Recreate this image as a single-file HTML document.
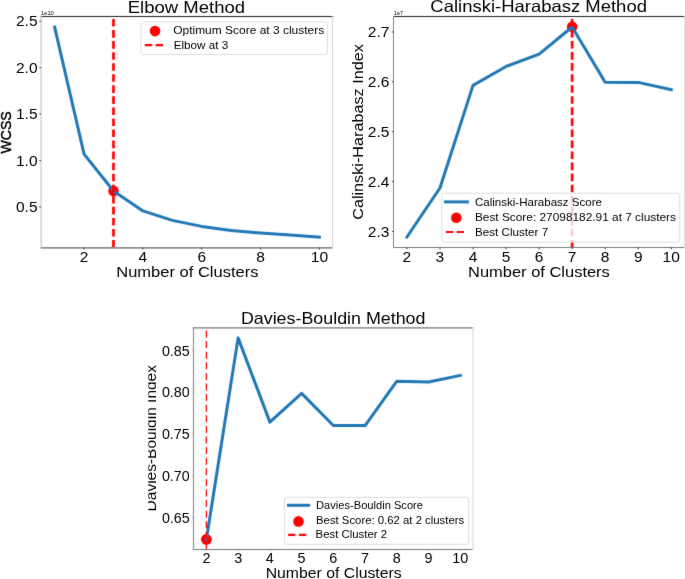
<!DOCTYPE html>
<html><head><meta charset="utf-8"><style>
html,body{margin:0;padding:0;background:#fff;overflow:hidden;}
svg{display:block;will-change:transform;}
</style></head><body>
<svg width="685" height="579" viewBox="0 0 685 579" font-family='"Liberation Sans", sans-serif'>
<rect width="685" height="579" fill="#fff"/>
<defs><filter id="bl" x="0" y="0" width="685" height="579" filterUnits="userSpaceOnUse" color-interpolation-filters="sRGB"><feConvolveMatrix order="3" kernelMatrix="0.01134 0.08382 0.01134 0.08382 0.61935 0.08382 0.01134 0.08382 0.01134" edgeMode="duplicate" preserveAlpha="false"/></filter><filter id="tbl" x="0" y="0" width="685" height="579" filterUnits="userSpaceOnUse" color-interpolation-filters="sRGB"><feConvolveMatrix order="3" kernelMatrix="0.00276 0.04704 0.00276 0.04704 0.80077 0.04704 0.00276 0.04704 0.00276" edgeMode="none" preserveAlpha="false"/></filter></defs>
<g filter="url(#bl)">
<rect width="685" height="579" fill="#fff"/>
<circle cx="113.48939393939395" cy="190.9" r="5.3" fill="#ff0000"/>
<polyline points="54.64,27.00 84.07,154.10 113.49,191.00 142.91,210.90 172.34,220.40 201.76,226.40 231.19,230.60 260.61,233.10 290.03,235.00 319.46,237.20" fill="none" stroke="#1f77b4" stroke-width="3.0" stroke-linejoin="round" stroke-linecap="square"/>
<line x1="113.48939393939395" y1="247.6" x2="113.48939393939395" y2="16.5" stroke="#ff0000" stroke-width="2.7" stroke-dasharray="7.6 3.45" stroke-dashoffset="0"/>
<rect x="40.5" y="16" width="293.0" height="1" fill="#222"/>
<rect x="40.5" y="247" width="292.5" height="1.7" fill="#8a8a8a"/>
<rect x="40.5" y="16" width="1.2" height="232.7" fill="#c4c4c4"/>
<rect x="332" y="16" width="1" height="232.7" fill="#d8d8d8"/>
<line x1="84.06515151515151" y1="247.6" x2="84.06515151515151" y2="249.4" stroke="#333" stroke-width="1.0"/>
<line x1="142.91363636363639" y1="247.6" x2="142.91363636363639" y2="249.4" stroke="#333" stroke-width="1.0"/>
<line x1="201.76212121212123" y1="247.6" x2="201.76212121212123" y2="249.4" stroke="#333" stroke-width="1.0"/>
<line x1="260.610606060606" y1="247.6" x2="260.610606060606" y2="249.4" stroke="#333" stroke-width="1.0"/>
<line x1="319.4590909090909" y1="247.6" x2="319.4590909090909" y2="249.4" stroke="#333" stroke-width="1.0"/>
<line x1="39.4" y1="21.2" x2="41.0" y2="21.2" stroke="#333" stroke-width="1.0"/>
<line x1="39.4" y1="67.6" x2="41.0" y2="67.6" stroke="#333" stroke-width="1.0"/>
<line x1="39.4" y1="114.0" x2="41.0" y2="114.0" stroke="#333" stroke-width="1.0"/>
<line x1="39.4" y1="160.6" x2="41.0" y2="160.6" stroke="#333" stroke-width="1.0"/>
<line x1="39.4" y1="207.0" x2="41.0" y2="207.0" stroke="#333" stroke-width="1.0"/>
<rect x="140.9" y="21.9" width="186.6" height="32.6" rx="2.5" ry="2.5" fill="#fff" fill-opacity="0.8" stroke="#dddddd" stroke-width="1"/>
<circle cx="155.0" cy="31.1" r="5.3" fill="#ff0000"/>
<line x1="144.8" y1="45.2" x2="163.5" y2="45.2" stroke="#ff0000" stroke-width="2.2" stroke-dasharray="7.4 3.4"/>
<circle cx="572.1454545454545" cy="26.8" r="5.3" fill="#ff0000"/>
<polyline points="406.92,236.99 439.96,187.99 473.01,85.39 506.05,66.43 539.10,54.11 572.15,27.00 605.19,82.30 638.24,82.40 671.28,89.68" fill="none" stroke="#1f77b4" stroke-width="3.0" stroke-linejoin="round" stroke-linecap="square"/>
<line x1="572.1454545454545" y1="247.5" x2="572.1454545454545" y2="16.5" stroke="#ff0000" stroke-width="2.7" stroke-dasharray="7.6 3.45" stroke-dashoffset="0"/>
<rect x="393" y="16" width="292" height="1" fill="#222"/>
<rect x="393" y="247" width="292" height="1" fill="#777"/>
<rect x="393" y="16" width="1" height="232" fill="#888"/>
<rect x="684" y="16" width="1" height="232" fill="#dcdcdc"/>
<line x1="406.9181818181818" y1="247.5" x2="406.9181818181818" y2="249.3" stroke="#333" stroke-width="1.0"/>
<line x1="439.96363636363634" y1="247.5" x2="439.96363636363634" y2="249.3" stroke="#333" stroke-width="1.0"/>
<line x1="473.0090909090909" y1="247.5" x2="473.0090909090909" y2="249.3" stroke="#333" stroke-width="1.0"/>
<line x1="506.0545454545454" y1="247.5" x2="506.0545454545454" y2="249.3" stroke="#333" stroke-width="1.0"/>
<line x1="539.0999999999999" y1="247.5" x2="539.0999999999999" y2="249.3" stroke="#333" stroke-width="1.0"/>
<line x1="572.1454545454545" y1="247.5" x2="572.1454545454545" y2="249.3" stroke="#333" stroke-width="1.0"/>
<line x1="605.190909090909" y1="247.5" x2="605.190909090909" y2="249.3" stroke="#333" stroke-width="1.0"/>
<line x1="638.2363636363635" y1="247.5" x2="638.2363636363635" y2="249.3" stroke="#333" stroke-width="1.0"/>
<line x1="671.2818181818182" y1="247.5" x2="671.2818181818182" y2="249.3" stroke="#333" stroke-width="1.0"/>
<line x1="391.9" y1="231.50018000000014" x2="393.5" y2="231.50018000000014" stroke="#333" stroke-width="1.0"/>
<line x1="391.9" y1="181.6001800000001" x2="393.5" y2="181.6001800000001" stroke="#333" stroke-width="1.0"/>
<line x1="391.9" y1="131.70018000000005" x2="393.5" y2="131.70018000000005" stroke="#333" stroke-width="1.0"/>
<line x1="391.9" y1="81.80018000000001" x2="393.5" y2="81.80018000000001" stroke="#333" stroke-width="1.0"/>
<line x1="391.9" y1="31.90017999999997" x2="393.5" y2="31.90017999999997" stroke="#333" stroke-width="1.0"/>
<rect x="441.8" y="193.2" width="237.99999999999994" height="49.0" rx="2.5" ry="2.5" fill="#fff" fill-opacity="0.8" stroke="#dddddd" stroke-width="1"/>
<line x1="445.4" y1="201.9" x2="467.4" y2="201.9" stroke="#1f77b4" stroke-width="3" stroke-linecap="square"/>
<circle cx="456.3" cy="217.8" r="5.3" fill="#ff0000"/>
<line x1="445.8" y1="232.0" x2="464.5" y2="232.0" stroke="#ff0000" stroke-width="2.2" stroke-dasharray="7.4 3.4"/>
<circle cx="206.39545454545453" cy="539.3605" r="5.4" fill="#ff0000"/>
<polyline points="206.40,539.36 238.13,337.87 269.87,422.13 301.61,393.40 333.35,425.55 365.09,425.55 396.83,381.21 428.57,381.96 460.30,375.45" fill="none" stroke="#1f77b4" stroke-width="3.0" stroke-linejoin="round" stroke-linecap="square"/>
<line x1="206.39545454545453" y1="327.8" x2="206.39545454545453" y2="549.5" stroke="#ff0000" stroke-width="1.3" stroke-dasharray="7.0 3.6" stroke-dashoffset="7.9"/>
<rect x="192.9" y="327.1" width="280.9" height="1.5" fill="#8c8c8c"/>
<rect x="192.9" y="549" width="280.9" height="1" fill="#777"/>
<rect x="192.9" y="327.1" width="1.2" height="222.9" fill="#909090"/>
<rect x="472.3" y="327.1" width="1.5" height="222.9" fill="#e2e2e2"/>
<line x1="206.39545454545453" y1="549.5" x2="206.39545454545453" y2="550.7" stroke="#999" stroke-width="1.0"/>
<line x1="238.1340909090909" y1="549.5" x2="238.1340909090909" y2="550.7" stroke="#999" stroke-width="1.0"/>
<line x1="269.8727272727273" y1="549.5" x2="269.8727272727273" y2="550.7" stroke="#999" stroke-width="1.0"/>
<line x1="301.61136363636365" y1="549.5" x2="301.61136363636365" y2="550.7" stroke="#999" stroke-width="1.0"/>
<line x1="333.35" y1="549.5" x2="333.35" y2="550.7" stroke="#999" stroke-width="1.0"/>
<line x1="365.0886363636364" y1="549.5" x2="365.0886363636364" y2="550.7" stroke="#999" stroke-width="1.0"/>
<line x1="396.8272727272727" y1="549.5" x2="396.8272727272727" y2="550.7" stroke="#999" stroke-width="1.0"/>
<line x1="428.5659090909091" y1="549.5" x2="428.5659090909091" y2="550.7" stroke="#999" stroke-width="1.0"/>
<line x1="460.30454545454546" y1="549.5" x2="460.30454545454546" y2="550.7" stroke="#999" stroke-width="1.0"/>
<line x1="192.3" y1="517.4" x2="193.5" y2="517.4" stroke="#999" stroke-width="1.0"/>
<line x1="192.3" y1="475.65" x2="193.5" y2="475.65" stroke="#999" stroke-width="1.0"/>
<line x1="192.3" y1="433.9" x2="193.5" y2="433.9" stroke="#999" stroke-width="1.0"/>
<line x1="192.3" y1="392.1499999999999" x2="193.5" y2="392.1499999999999" stroke="#999" stroke-width="1.0"/>
<line x1="192.3" y1="350.4" x2="193.5" y2="350.4" stroke="#999" stroke-width="1.0"/>
<rect x="284.5" y="497.3" width="184.3" height="46.99999999999994" rx="2.5" ry="2.5" fill="#fff" fill-opacity="0.8" stroke="#dddddd" stroke-width="1"/>
<line x1="288.5" y1="505.3" x2="308.6" y2="505.3" stroke="#1f77b4" stroke-width="3" stroke-linecap="square"/>
<circle cx="298.5" cy="521.4" r="5.3" fill="#ff0000"/>
<line x1="288.1" y1="534.8" x2="306.7" y2="534.8" stroke="#ff0000" stroke-width="2.2" stroke-dasharray="7.3 3.6"/>
</g>
<g filter="url(#tbl)">
<text x="84.07" y="261.5" font-size="14.5" text-anchor="middle" textLength="8.65" lengthAdjust="spacingAndGlyphs" fill="#000">2</text>
<text x="142.91" y="261.5" font-size="14.5" text-anchor="middle" textLength="8.65" lengthAdjust="spacingAndGlyphs" fill="#000">4</text>
<text x="201.76" y="261.5" font-size="14.5" text-anchor="middle" textLength="8.65" lengthAdjust="spacingAndGlyphs" fill="#000">6</text>
<text x="260.61" y="261.5" font-size="14.5" text-anchor="middle" textLength="8.65" lengthAdjust="spacingAndGlyphs" fill="#000">8</text>
<text x="319.46" y="261.5" font-size="14.5" text-anchor="middle" textLength="17.3" lengthAdjust="spacingAndGlyphs" fill="#000">10</text>
<text x="37.6" y="26.2" font-size="14" text-anchor="end" textLength="21.62" lengthAdjust="spacingAndGlyphs" fill="#000">2.5</text>
<text x="37.6" y="72.6" font-size="14" text-anchor="end" textLength="21.62" lengthAdjust="spacingAndGlyphs" fill="#000">2.0</text>
<text x="37.6" y="119.0" font-size="14" text-anchor="end" textLength="21.62" lengthAdjust="spacingAndGlyphs" fill="#000">1.5</text>
<text x="37.6" y="165.6" font-size="14" text-anchor="end" textLength="21.62" lengthAdjust="spacingAndGlyphs" fill="#000">1.0</text>
<text x="37.6" y="212.0" font-size="14" text-anchor="end" textLength="21.62" lengthAdjust="spacingAndGlyphs" fill="#000">0.5</text>
<text x="187.35" y="277.3" font-size="15.0" text-anchor="middle" textLength="142.2" lengthAdjust="spacingAndGlyphs" fill="#000">Number of Clusters</text>
<text x="11.0" y="132.4" font-size="15.4" text-anchor="middle" textLength="42.2" lengthAdjust="spacingAndGlyphs" transform="rotate(-90 11.0 132.4)" fill="#000" stroke="#000" stroke-width="0.45">WCSS</text>
<text x="186.4" y="12.5" font-size="16.5" text-anchor="middle" textLength="117.3" lengthAdjust="spacingAndGlyphs" fill="#000">Elbow Method</text>
<text x="41.0" y="15.3" font-size="6" text-anchor="start" textLength="12.8" lengthAdjust="spacingAndGlyphs" fill="#000">1e10</text>
<text x="173.2" y="34.0" font-size="10.2" text-anchor="start" textLength="151" lengthAdjust="spacingAndGlyphs" fill="#000">Optimum Score at 3 clusters</text>
<text x="173.7" y="49.3" font-size="10.2" text-anchor="start" textLength="54.6" lengthAdjust="spacingAndGlyphs" fill="#000">Elbow at 3</text>
<text x="406.92" y="261.5" font-size="14.5" text-anchor="middle" textLength="8.65" lengthAdjust="spacingAndGlyphs" fill="#000">2</text>
<text x="439.96" y="261.5" font-size="14.5" text-anchor="middle" textLength="8.65" lengthAdjust="spacingAndGlyphs" fill="#000">3</text>
<text x="473.01" y="261.5" font-size="14.5" text-anchor="middle" textLength="8.65" lengthAdjust="spacingAndGlyphs" fill="#000">4</text>
<text x="506.05" y="261.5" font-size="14.5" text-anchor="middle" textLength="8.65" lengthAdjust="spacingAndGlyphs" fill="#000">5</text>
<text x="539.1" y="261.5" font-size="14.5" text-anchor="middle" textLength="8.65" lengthAdjust="spacingAndGlyphs" fill="#000">6</text>
<text x="572.15" y="261.5" font-size="14.5" text-anchor="middle" textLength="8.65" lengthAdjust="spacingAndGlyphs" fill="#000">7</text>
<text x="605.19" y="261.5" font-size="14.5" text-anchor="middle" textLength="8.65" lengthAdjust="spacingAndGlyphs" fill="#000">8</text>
<text x="638.24" y="261.5" font-size="14.5" text-anchor="middle" textLength="8.65" lengthAdjust="spacingAndGlyphs" fill="#000">9</text>
<text x="671.28" y="261.5" font-size="14.5" text-anchor="middle" textLength="17.3" lengthAdjust="spacingAndGlyphs" fill="#000">10</text>
<text x="389.4" y="236.5" font-size="14" text-anchor="end" textLength="21.62" lengthAdjust="spacingAndGlyphs" fill="#000">2.3</text>
<text x="389.4" y="186.6" font-size="14" text-anchor="end" textLength="21.62" lengthAdjust="spacingAndGlyphs" fill="#000">2.4</text>
<text x="389.4" y="136.7" font-size="14" text-anchor="end" textLength="21.62" lengthAdjust="spacingAndGlyphs" fill="#000">2.5</text>
<text x="389.4" y="86.8" font-size="14" text-anchor="end" textLength="21.62" lengthAdjust="spacingAndGlyphs" fill="#000">2.6</text>
<text x="389.4" y="36.9" font-size="14" text-anchor="end" textLength="21.62" lengthAdjust="spacingAndGlyphs" fill="#000">2.7</text>
<text x="538.95" y="277.2" font-size="15.0" text-anchor="middle" textLength="141.8" lengthAdjust="spacingAndGlyphs" fill="#000">Number of Clusters</text>
<text x="363.0" y="132.0" font-size="15" text-anchor="middle" textLength="175.6" lengthAdjust="spacingAndGlyphs" transform="rotate(-90 363.0 132.0)" fill="#000">Calinski-Harabasz Index</text>
<text x="538.65" y="12.4" font-size="16.5" text-anchor="middle" textLength="216.6" lengthAdjust="spacingAndGlyphs" fill="#000">Calinski-Harabasz Method</text>
<text x="393.8" y="15.1" font-size="6" text-anchor="start" textLength="9.3" lengthAdjust="spacingAndGlyphs" fill="#000">1e7</text>
<text x="474.9" y="205.7" font-size="10.2" text-anchor="start" textLength="127.1" lengthAdjust="spacingAndGlyphs" fill="#000">Calinski-Harabasz Score</text>
<text x="474.9" y="220.9" font-size="10.2" text-anchor="start" textLength="201.1" lengthAdjust="spacingAndGlyphs" fill="#000">Best Score: 27098182.91 at 7 clusters</text>
<text x="474.9" y="235.6" font-size="10.2" text-anchor="start" textLength="73.3" lengthAdjust="spacingAndGlyphs" fill="#000">Best Cluster 7</text>
<text x="206.4" y="563.0" font-size="14.8" text-anchor="middle" textLength="8.01" lengthAdjust="spacingAndGlyphs" fill="#000">2</text>
<text x="238.13" y="563.0" font-size="14.8" text-anchor="middle" textLength="8.01" lengthAdjust="spacingAndGlyphs" fill="#000">3</text>
<text x="269.87" y="563.0" font-size="14.8" text-anchor="middle" textLength="8.01" lengthAdjust="spacingAndGlyphs" fill="#000">4</text>
<text x="301.61" y="563.0" font-size="14.8" text-anchor="middle" textLength="8.01" lengthAdjust="spacingAndGlyphs" fill="#000">5</text>
<text x="333.35" y="563.0" font-size="14.8" text-anchor="middle" textLength="8.01" lengthAdjust="spacingAndGlyphs" fill="#000">6</text>
<text x="365.09" y="563.0" font-size="14.8" text-anchor="middle" textLength="8.01" lengthAdjust="spacingAndGlyphs" fill="#000">7</text>
<text x="396.83" y="563.0" font-size="14.8" text-anchor="middle" textLength="8.01" lengthAdjust="spacingAndGlyphs" fill="#000">8</text>
<text x="428.57" y="563.0" font-size="14.8" text-anchor="middle" textLength="8.01" lengthAdjust="spacingAndGlyphs" fill="#000">9</text>
<text x="460.3" y="563.0" font-size="14.8" text-anchor="middle" textLength="16.03" lengthAdjust="spacingAndGlyphs" fill="#000">10</text>
<text x="189.7" y="522.5" font-size="14.8" text-anchor="end" textLength="27.82" lengthAdjust="spacingAndGlyphs" fill="#000">0.65</text>
<text x="189.7" y="480.75" font-size="14.8" text-anchor="end" textLength="27.82" lengthAdjust="spacingAndGlyphs" fill="#000">0.70</text>
<text x="189.7" y="439.0" font-size="14.8" text-anchor="end" textLength="27.82" lengthAdjust="spacingAndGlyphs" fill="#000">0.75</text>
<text x="189.7" y="397.25" font-size="14.8" text-anchor="end" textLength="27.82" lengthAdjust="spacingAndGlyphs" fill="#000">0.80</text>
<text x="189.7" y="355.5" font-size="14.8" text-anchor="end" textLength="27.82" lengthAdjust="spacingAndGlyphs" fill="#000">0.85</text>
<text x="333.7" y="577.5" font-size="14" text-anchor="middle" textLength="136.0" lengthAdjust="spacingAndGlyphs" fill="#000">Number of Clusters</text>
<clipPath id="c3"><rect x="148.3" y="300" width="400" height="279"/></clipPath>
<g clip-path="url(#c3)">
<text x="156.4" y="438.2" font-size="15.2" text-anchor="middle" textLength="146.4" lengthAdjust="spacingAndGlyphs" transform="rotate(-90 156.4 438.2)" fill="#000">Davies-Bouldin Index</text>
</g>
<text x="333.2" y="323.8" font-size="16.4" text-anchor="middle" textLength="184.6" lengthAdjust="spacingAndGlyphs" fill="#000">Davies-Bouldin Method</text>
<text x="316.0" y="509.4" font-size="10" text-anchor="start" textLength="107" lengthAdjust="spacingAndGlyphs" fill="#000">Davies-Bouldin Score</text>
<text x="316.0" y="523.6" font-size="10" text-anchor="start" textLength="148.2" lengthAdjust="spacingAndGlyphs" fill="#000">Best Score: 0.62 at 2 clusters</text>
<text x="315.6" y="538.2" font-size="10" text-anchor="start" textLength="71.4" lengthAdjust="spacingAndGlyphs" fill="#000">Best Cluster 2</text>
</g>
</svg>
</body></html>
